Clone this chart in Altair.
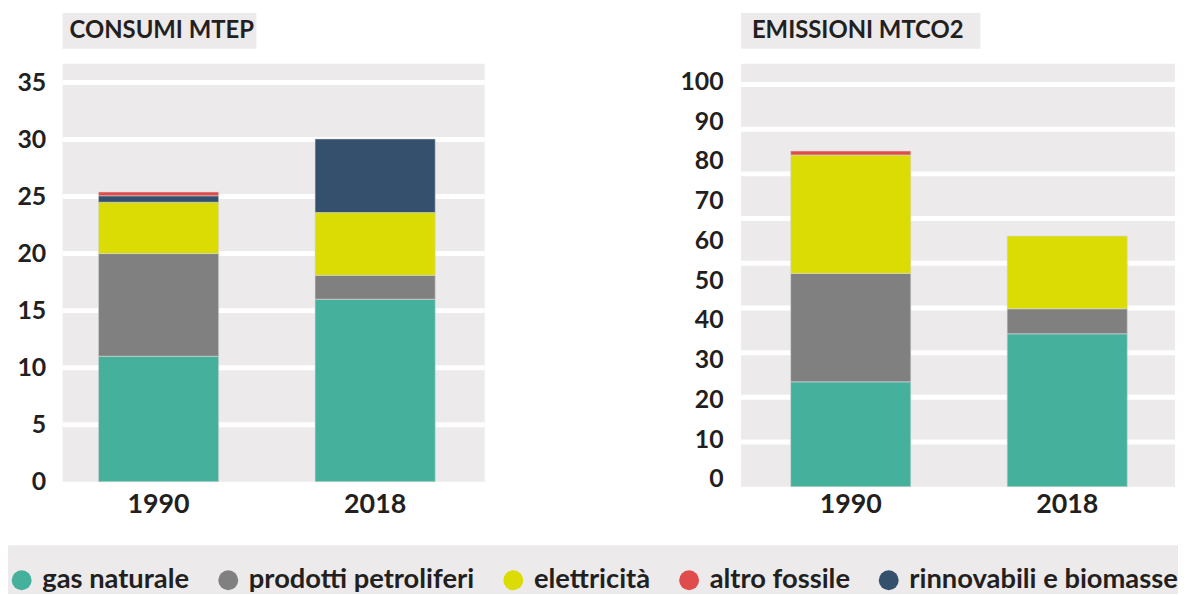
import altair as alt
import pandas as pd

categories = ["gas naturale", "prodotti petroliferi", "elettricità", "altro fossile", "rinnovabili e biomasse"]
stack_rank = [0, 1, 2, 4, 3]
colors = ["#45B09C", "#808080", "#DCDC05", "#E04B4B", "#34506D"]
years = ["1990", "2018"]

consumi_1990 = [11.0, 9.0, 4.5, 0.35, 0.55]
consumi_2018 = [16.0, 2.1, 5.5, 0.0, 6.45]
emissioni_1990 = [26.4, 27.3, 29.8, 1.0, 0.0]
emissioni_2018 = [38.5, 6.3, 18.3, 0.0, 0.0]

consumi_ticks = [0, 5, 10, 15, 20, 25, 30, 35]
consumi_grid = [5, 10, 15, 20, 25, 30, 35]
emissioni_ticks = [0, 10, 20, 30, 40, 50, 60, 70, 80, 90, 100]
emissioni_grid = [10, 20, 30, 40, 50, 60, 70, 80, 90]

title_left = "CONSUMI MTEP"
title_right = "EMISSIONI MTCO2"

BG = "#ECEAEB"
TXT = "#231F20"
FONT = "Lato"


def bars_df(v90, v18):
    rows = []
    for y, vals in zip(years, [v90, v18]):
        for c, r, v in zip(categories, stack_rank, vals):
            rows.append({"anno": y, "fonte": c, "rank": r, "valore": v})
    return pd.DataFrame(rows)


color = alt.Color(
    "fonte:N",
    scale=alt.Scale(domain=categories, range=colors),
    legend=alt.Legend(
        orient="none", legendX=-55, legendY=485, direction="horizontal",
        title=" ", titleFontSize=14, titlePadding=7,
        symbolType="circle", symbolSize=400, symbolStrokeWidth=0,
        labelFont=FONT, labelFontSize=27.5, labelFontWeight="bold", labelColor=TXT,
        labelOffset=7, columnPadding=25, padding=0, fillColor=BG, labelLimit=400,
    ),
)


def title_layers(text, box_w, text_x):
    d = pd.DataFrame({"t": [text]})
    box = alt.Chart(d).mark_rect(color=BG).encode(
        x=alt.value(0), x2=alt.value(box_w), y=alt.value(-51), y2=alt.value(-15)
    )
    txt = alt.Chart(d).mark_text(
        align="left", baseline="middle", font=FONT, fontSize=24,
        fontWeight="bold", color=TXT,
    ).encode(x=alt.value(text_x), y=alt.value(-33), text="t:N")
    return box, txt


def panel(df, grid_vals, grid_dom, val_dom, ticks, w, h, pin, pout, align,
          ylab_pad, ylab_off, xlab_pad, title, box_w, text_x):
    grid = alt.Chart(pd.DataFrame({"g": grid_vals})).mark_rule(
        color="white", strokeWidth=5
    ).encode(y=alt.Y("g:Q", scale=alt.Scale(domain=grid_dom, nice=False, zero=True), axis=None))
    bars = alt.Chart(df).transform_filter("datum.valore > 0").mark_bar(
        stroke="#d8d8d8", strokeWidth=0.6
    ).encode(
        x=alt.X(
            "anno:N",
            sort=years,
            scale=alt.Scale(paddingInner=pin, paddingOuter=pout, align=align),
            axis=alt.Axis(
                title=None, labelAngle=0, domain=False, ticks=False,
                labelFont=FONT, labelFontSize=27, labelFontWeight="bold",
                labelColor=TXT, labelPadding=xlab_pad,
            ),
        ),
        y=alt.Y(
            "valore:Q", stack="zero",
            scale=alt.Scale(domain=val_dom, nice=False, zero=True),
            axis=alt.Axis(
                orient="left", title=None, values=ticks, grid=False,
                domain=False, ticks=False, labelFont=FONT, labelFontSize=25,
                labelFontWeight="bold", labelColor=TXT, labelPadding=ylab_pad,
                labelOffset=ylab_off,
            ),
        ),
        color=color,
        order=alt.Order("rank:Q"),
    )
    box, txt = title_layers(title, box_w, text_x)
    return (
        alt.layer(grid, bars, box, txt)
        .resolve_scale(y="independent")
        .properties(width=w, height=h)
    )


left = panel(bars_df(consumi_1990, consumi_2018), consumi_grid, [0, 36.65], [0, 36.65],
             consumi_ticks, 425, 421, 0.445, 0.197, 0.42, 17, 0, 10,
             title_left, 195, 7)
right = panel(bars_df(emissioni_1990, emissioni_2018), emissioni_grid, [0, 94.67], [0, 106.5],
              emissioni_ticks, 437, 426, 0.445, 0.225, 0.51, 18, -8, 5,
              title_right, 241, 11)

chart = (
    alt.hconcat(left, right, spacing=193)
    .properties(padding={"left": 0, "top": 3, "right": 0, "bottom": 0})
    .configure(font=FONT)
    .configure_view(fill=BG, stroke=None)
)

chart.save("out.html", embed_options={"renderer": "svg", "actions": False})
